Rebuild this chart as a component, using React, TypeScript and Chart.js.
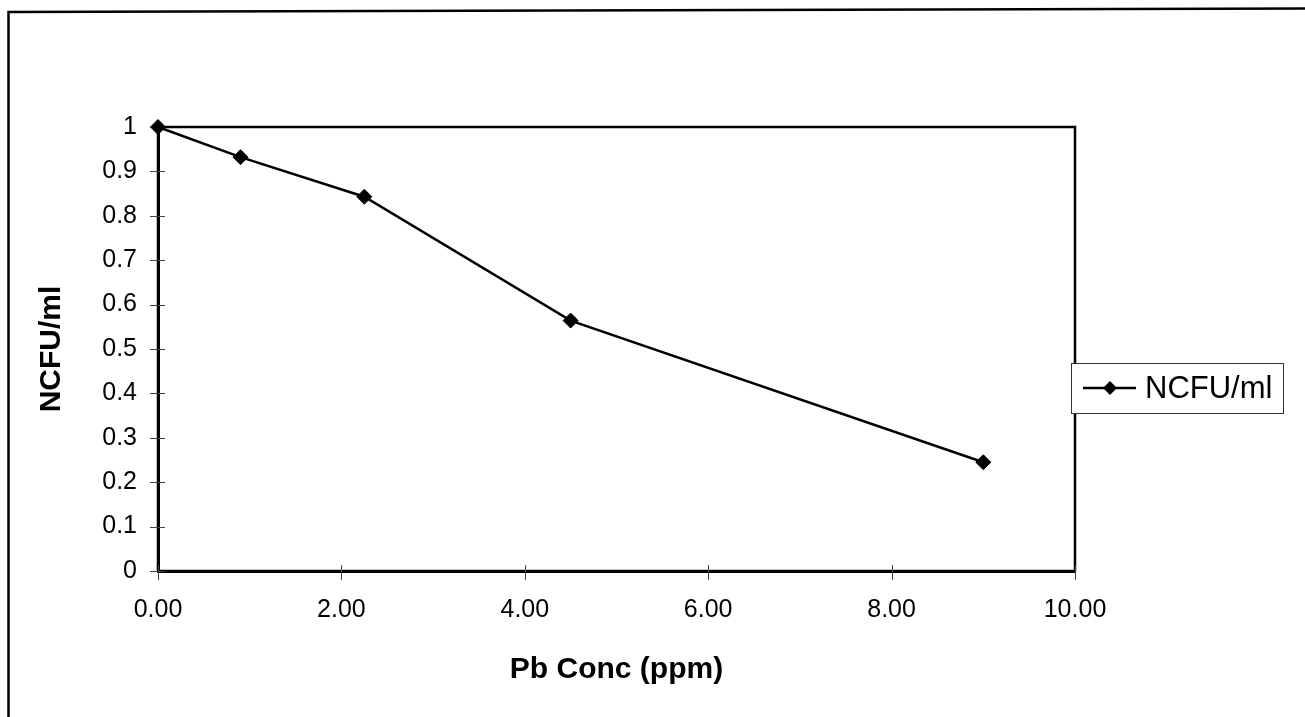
import React, { useEffect, useRef } from "react";
import { Chart, registerables } from "chart.js";

Chart.register(...registerables);

// ---- data ----
const concentrations = [0, 0.9, 2.25, 4.5, 9];
const ncfuValues = [1, 0.932, 0.843, 0.564, 0.245];
const seriesLabel = "NCFU/ml";
const xAxisTitle = "Pb Conc (ppm)";
const yAxisTitle = "NCFU/ml";
const xAxisRange = [0, 10];
const xAxisStep = 2;
const yAxisRange = [0, 1];
const yAxisStep = 0.1;

const FONT = "'Liberation Sans', Arial, Helvetica, sans-serif";

const outerFrame = {
  id: "outerFrame",
  beforeDraw(chart: any) {
    const ctx = chart.ctx;
    ctx.save();
    ctx.strokeStyle = "#000";
    ctx.lineWidth = 2.5;
    ctx.beginPath();
    ctx.moveTo(8.5, chart.height);
    ctx.lineTo(8.5, 12);
    ctx.lineTo(chart.width, 8.5);
    ctx.stroke();
    ctx.restore();
  },
};

const plotFrame = {
  id: "plotFrame",
  beforeDatasetsDraw(chart: any) {
    const { ctx, chartArea } = chart;
    const { left, top, right, bottom } = chartArea;
    ctx.save();
    ctx.strokeStyle = "#000";
    ctx.lineWidth = 2.5;
    ctx.strokeRect(left, top, right - left, bottom - top);
    // crossing tick marks
    ctx.strokeStyle = "#444";
    ctx.lineWidth = 1;
    const ys = chart.scales.y;
    ys.ticks.forEach((t: any) => {
      const py = Math.round(ys.getPixelForValue(t.value)) + 0.5;
      ctx.beginPath();
      ctx.moveTo(left - 8, py);
      ctx.lineTo(left + 7, py);
      ctx.stroke();
    });
    const xs = chart.scales.x;
    xs.ticks.forEach((t: any) => {
      const px = Math.round(xs.getPixelForValue(t.value)) + 0.5;
      ctx.beginPath();
      ctx.moveTo(px, bottom - 6);
      ctx.lineTo(px, bottom + 9);
      ctx.stroke();
    });
    ctx.restore();
  },
};

const boxLegend = {
  id: "boxLegend",
  afterDraw(chart: any) {
    const { ctx, chartArea } = chart;
    const ds = chart.data.datasets[0];
    const x0 = chartArea.right - 4;
    const y0 = 363;
    const w = 212;
    const h = 50;
    const cy = y0 + h / 2;
    ctx.save();
    ctx.fillStyle = "#fff";
    ctx.fillRect(x0, y0, w, h);
    ctx.strokeStyle = "#333";
    ctx.lineWidth = 1;
    ctx.strokeRect(x0 + 0.5, y0 + 0.5, w, h);
    // sample line
    ctx.strokeStyle = ds.borderColor;
    ctx.lineWidth = ds.borderWidth;
    ctx.beginPath();
    ctx.moveTo(x0 + 12, cy);
    ctx.lineTo(x0 + 65, cy);
    ctx.stroke();
    // diamond marker
    const mx = x0 + 39;
    const r = 7;
    ctx.fillStyle = ds.pointBackgroundColor;
    ctx.beginPath();
    ctx.moveTo(mx, cy - r);
    ctx.lineTo(mx + r, cy);
    ctx.lineTo(mx, cy + r);
    ctx.lineTo(mx - r, cy);
    ctx.closePath();
    ctx.fill();
    // text
    ctx.fillStyle = "#000";
    ctx.font = `31px ${FONT}`;
    ctx.textAlign = "left";
    ctx.textBaseline = "middle";
    ctx.fillText(ds.label, x0 + 74, cy + 1);
    ctx.restore();
  },
};

export default function App() {
  const canvasRef = useRef<HTMLCanvasElement | null>(null);

  useEffect(() => {
    document.body.style.margin = "0";
    const canvas = canvasRef.current;
    if (!canvas) return;
    Chart.defaults.font.family = FONT;
    Chart.defaults.color = "#000";

    const chart = new Chart(canvas, {
      type: "line",
      data: {
        datasets: [
          {
            label: seriesLabel,
            data: concentrations.map((x, i) => ({ x, y: ncfuValues[i] })),
            borderColor: "#000",
            borderWidth: 2.5,
            pointStyle: "rectRot",
            pointRadius: 7.5,
            pointBackgroundColor: "#000",
            pointBorderColor: "#000",
            pointBorderWidth: 1,
            tension: 0,
            fill: false,
            clip: false as any,
          },
        ],
      },
      options: {
        animation: false,
        responsive: true,
        maintainAspectRatio: false,
        layout: { padding: { top: 127, right: 230, left: 0, bottom: 0 } },
        plugins: {
          legend: { display: false },
          tooltip: { enabled: false },
          title: { display: false },
        },
        scales: {
          x: {
            type: "linear",
            min: xAxisRange[0],
            max: xAxisRange[1],
            afterFit(scale: any) {
              scale.height = 146;
            },
            ticks: {
              stepSize: xAxisStep,
              padding: 24,
              font: { size: 25 },
              color: "#000",
              callback: (v: any) => Number(v).toFixed(2),
            },
            grid: { display: false, drawTicks: false },
            border: { display: true, color: "#000", width: 3 },
            title: {
              display: true,
              text: xAxisTitle,
              font: { size: 30, weight: "bold" },
              color: "#000",
              padding: { top: 0, bottom: 29 },
            },
          },
          y: {
            type: "linear",
            min: yAxisRange[0],
            max: yAxisRange[1],
            afterFit(scale: any) {
              scale.width = 158;
            },
            ticks: {
              stepSize: yAxisStep,
              padding: 21,
              font: { size: 25 },
              color: "#000",
              callback: (v: any) => String(Math.round(Number(v) * 10) / 10),
            },
            grid: { display: false, drawTicks: false },
            border: { display: true, color: "#000", width: 3 },
            title: {
              display: true,
              text: yAxisTitle,
              font: { size: 30, weight: "bold" },
              color: "#000",
              padding: { top: 34, bottom: 0 },
            },
          },
        },
      },
      plugins: [outerFrame, plotFrame, boxLegend],
    });

    return () => chart.destroy();
  }, []);

  return (
    <div
      style={{
        position: "fixed",
        left: 0,
        top: 0,
        width: 1305,
        height: 717,
        background: "#fff",
      }}
    >
      <canvas ref={canvasRef} />
    </div>
  );
}
